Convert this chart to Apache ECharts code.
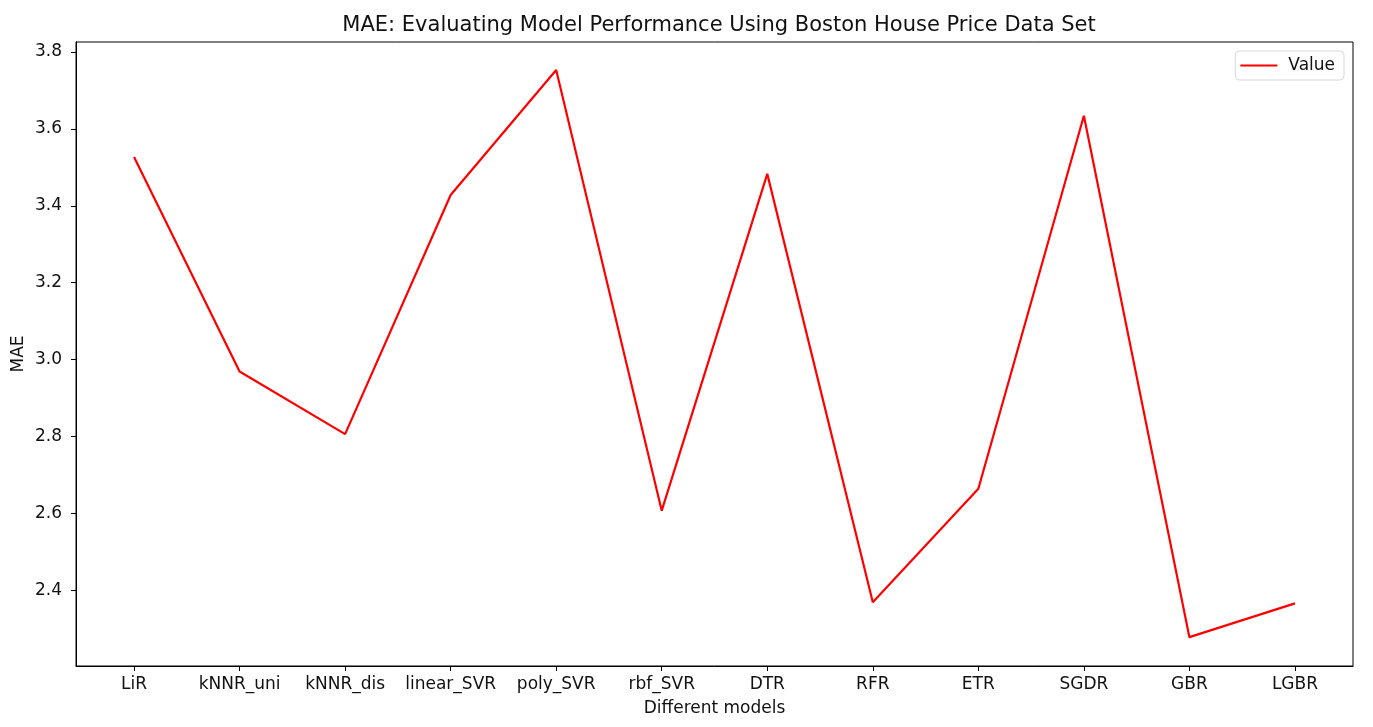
<!DOCTYPE html>
<html>
<head>
<meta charset="utf-8">
<script src="https://cdn.jsdelivr.net/npm/echarts@6/dist/echarts.min.js"></script>
<style>
html,body{margin:0;padding:0;background:#fff;}
#chart{width:1373px;height:727px;}
</style>
</head>
<body>
<div id="chart"></div>
<script>
const categories = ['LiR','kNNR_uni','kNNR_dis','linear_SVR','poly_SVR','rbf_SVR','DTR','RFR','ETR','SGDR','GBR','LGBR'];
const maeValues = [3.527, 2.969, 2.806, 3.428, 3.753, 2.607, 3.483, 2.369, 2.664, 3.634, 2.278, 2.366];
const yTicks = [2.4, 2.6, 2.8, 3.0, 3.2, 3.4, 3.6, 3.8];

const xIdx = categories.map((c, i) => i);
const seriesData = maeValues.map((v, i) => [i, v]);
const font = 'DejaVu Sans';

const chart = echarts.init(document.getElementById('chart'), null, {renderer: 'canvas'});
chart.setOption({
  animation: false,
  backgroundColor: '#fff',
  title: {
    text: 'MAE: Evaluating Model Performance Using Boston House Price Data Set',
    left: 714, top: 10, textAlign: 'center',
    textStyle: {fontFamily: font, fontSize: 21, fontWeight: 'normal', color: '#111'}
  },
  legend: {
    right: 29, top: 51,
    data: [{name: 'Value', icon: 'rect'}],
    itemWidth: 37, itemHeight: 2, itemGap: 10,
    padding: [6, 9, 6, 5],
    borderColor: '#d9d9d9', borderWidth: 1, borderRadius: 4,
    textStyle: {fontFamily: font, fontSize: 17, color: '#111', padding: [0,0,0,6]}
  },
  grid: {
    left: 76, right: 20, top: 42, bottom: 61,
    show: true, borderColor: '#000', borderWidth: 1, containLabel: false
  },
  xAxis: {
    type: 'value', min: -0.55, max: 11.55,
    name: 'Different models', nameLocation: 'middle', nameGap: 34,
    nameTextStyle: {fontFamily: font, fontSize: 17, color: '#111'},
    axisLine: {show: true, onZero: false, lineStyle: {color: '#000', width: 1}},
    axisTick: {show: true, inside: false, length: 5, lineStyle: {color: '#000', width: 1}, customValues: xIdx},
    axisLabel: {
      customValues: xIdx, margin: 10,
      fontFamily: font, fontSize: 17, color: '#111',
      formatter: v => categories[Math.round(v)] ?? ''
    },
    splitLine: {show: false}
  },
  yAxis: {
    type: 'value', min: 2.203, max: 3.826,
    name: 'MAE', nameLocation: 'middle', nameGap: 49, nameMoveOverlap: false,
    nameTextStyle: {fontFamily: font, fontSize: 17, color: '#111'},
    axisLine: {show: true, onZero: false, lineStyle: {color: '#000', width: 1}},
    axisTick: {show: true, inside: false, length: 5, lineStyle: {color: '#000', width: 1}, customValues: yTicks},
    axisLabel: {
      customValues: yTicks, margin: 14,
      fontFamily: font, fontSize: 17, color: '#111',
      formatter: v => v.toFixed(1)
    },
    splitLine: {show: false}
  },
  series: [{
    name: 'Value', type: 'line', data: seriesData,
    symbol: 'none', showSymbol: false,
    lineStyle: {color: '#ff0000', width: 2.2},
    itemStyle: {color: '#ff0000'}
  }]
});
</script>
</body>
</html>
